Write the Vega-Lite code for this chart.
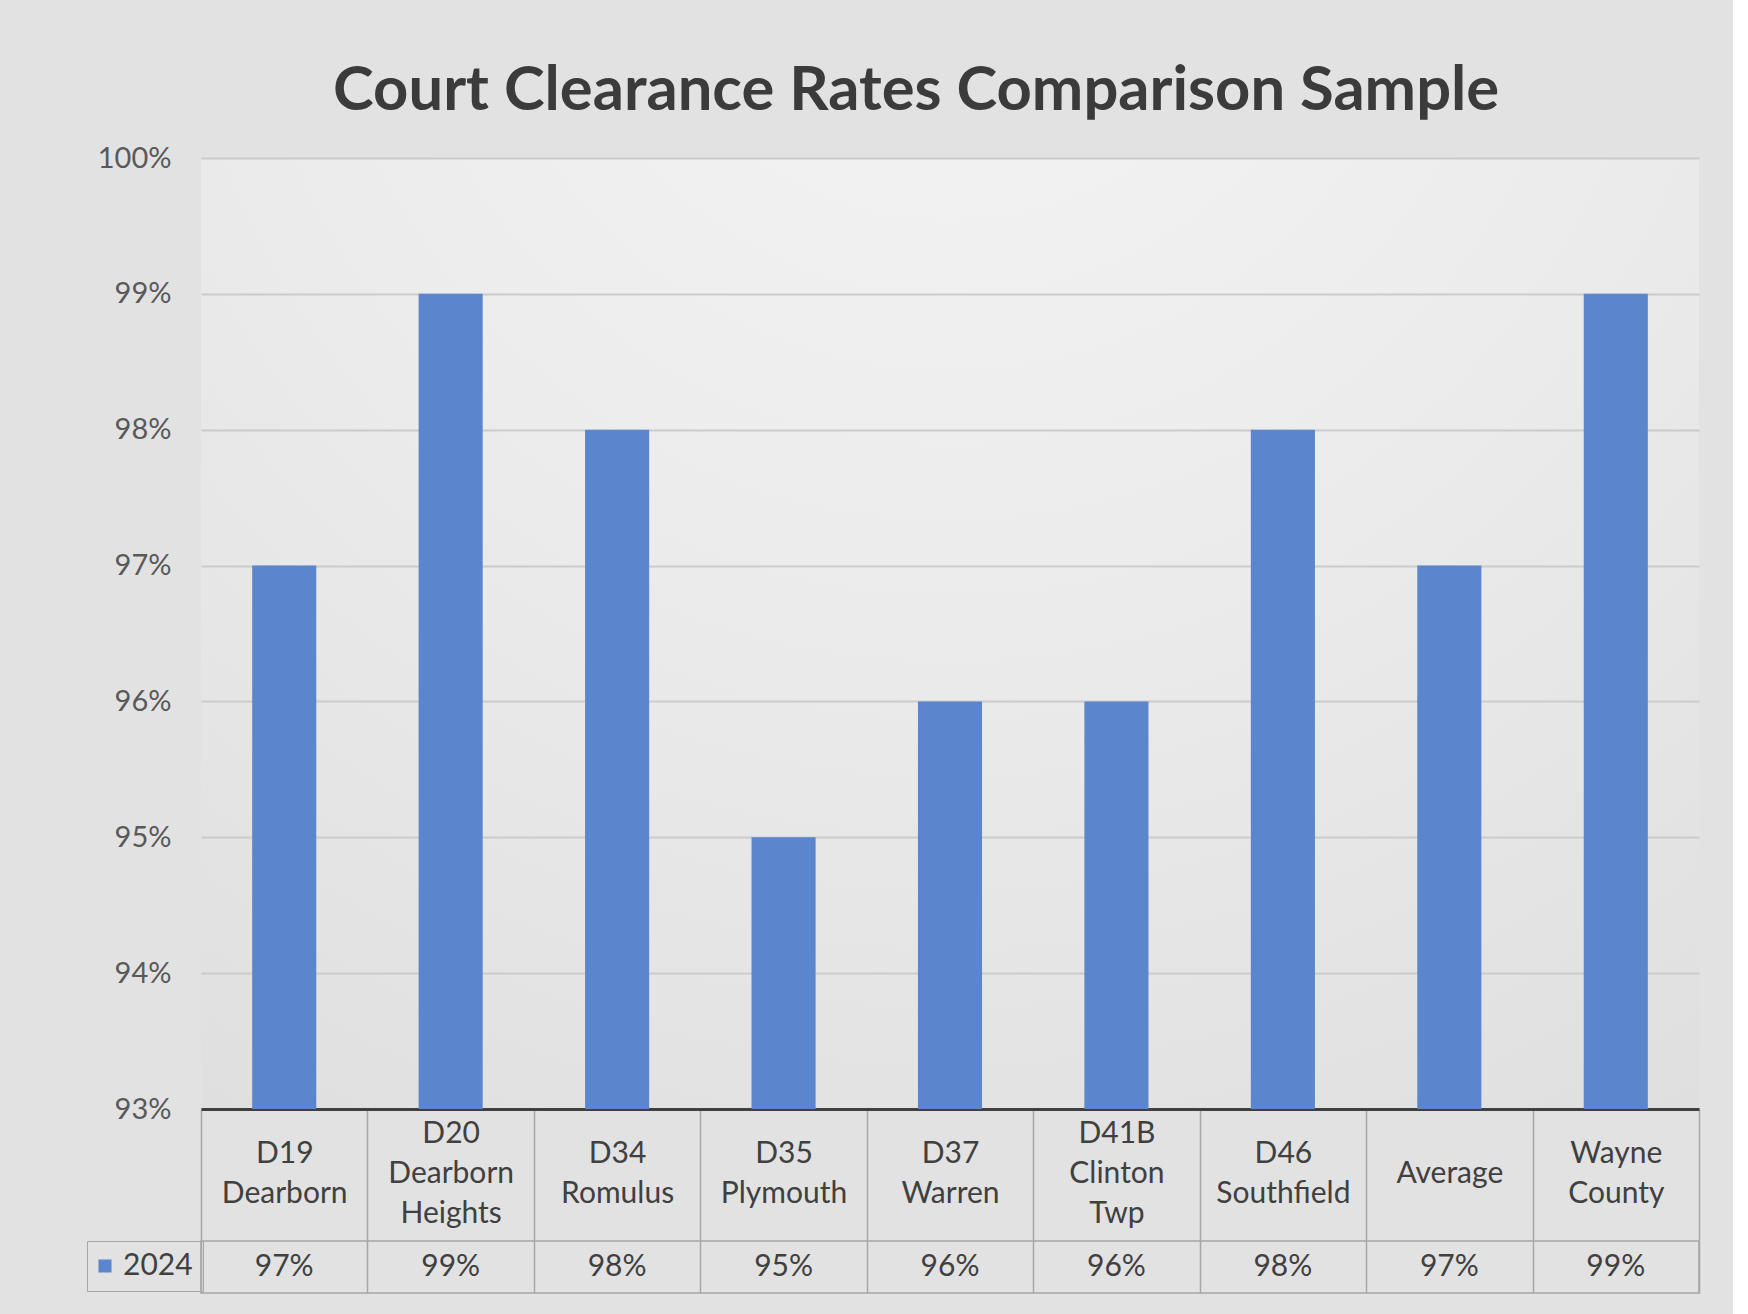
{
  "$schema": "https://vega.github.io/schema/vega-lite/v6.json",
  "background": "#e2e2e2",
  "padding": {"left": 86, "top": 60, "right": 33, "bottom": 25},
  "title": {"text": "Court Clearance Rates Comparison Sample", "font": "Lato", "fontSize": 61.5, "fontWeight": "bold", "color": "#3b3b3b", "anchor": "middle", "offset": 22, "dx": 23},
  "data": {"values": [
    {"court": "D19 Dearborn", "label": "D19\nDearborn", "series": "2024", "value": 0.97},
    {"court": "D20 Dearborn Heights", "label": "D20\nDearborn\nHeights", "series": "2024", "value": 0.99},
    {"court": "D34 Romulus", "label": "D34\nRomulus", "series": "2024", "value": 0.98},
    {"court": "D35 Plymouth", "label": "D35\nPlymouth", "series": "2024", "value": 0.95},
    {"court": "D37 Warren", "label": "D37\nWarren", "series": "2024", "value": 0.96},
    {"court": "D41B Clinton Twp", "label": "D41B\nClinton\nTwp", "series": "2024", "value": 0.96},
    {"court": "D46 Southfield", "label": "D46\nSouthfield", "series": "2024", "value": 0.98},
    {"court": "Average", "label": "Average", "series": "2024", "value": 0.97},
    {"court": "Wayne County", "label": "Wayne\nCounty", "series": "2024", "value": 0.99}
  ]},
  "bounds": "flush",
  "spacing": 132,
  "vconcat": [
    {
      "width": 1498,
      "height": 951,
      "view": {"fill": {"gradient": "radial", "x1": 0.5, "y1": 0, "r1": 0, "x2": 0.5, "y2": 0, "r2": 1, "stops": [{"offset": 0, "color": "#f5f5f5"}, {"offset": 0.5, "color": "#ebebeb"}, {"offset": 1, "color": "#dedede"}]}},
      "mark": {"type": "bar", "width": {"band": 0.385}, "clip": true},
      "encoding": {
        "x": {"field": "label", "type": "nominal", "sort": null,
          "scale": {"paddingInner": 0, "paddingOuter": 0},
          "axis": {"title": null, "labelAngle": 0,
            "labelExpr": "split(datum.label, '\\n')",
            "labelFont": "Lato", "labelFontSize": 30, "labelColor": "#404040", "labelLineHeight": 40,
            "labelBaseline": {"condition": [
              {"test": "length(split(datum.value, '\\n')) == 3", "value": "line-bottom"},
              {"test": "length(split(datum.value, '\\n')) == 2", "value": "middle"}
            ], "value": "line-top"},
            "labelPadding": -88,
            "domainColor": "#404040", "domainWidth": 3,
            "tickBand": "extent", "tickSize": 132, "tickColor": "#a6a6a6", "tickWidth": 1.5,
            "grid": false}},
        "y": {"field": "value", "type": "quantitative",
          "scale": {"domain": [0.93, 1.0], "zero": false, "nice": false},
          "axis": {"title": null, "values": [0.93, 0.94, 0.95, 0.96, 0.97, 0.98, 0.99, 1.0], "format": ".0%",
            "labelFont": "Lato", "labelFontSize": 29, "labelColor": "#595959", "labelPadding": 30,
            "domain": false, "ticks": false, "grid": true, "gridColor": "#cbcbcb", "gridWidth": 2}},
        "color": {"field": "series", "type": "nominal",
          "scale": {"range": ["#5b85cc"]},
          "legend": {"title": null, "orient": "none", "legendX": -114, "legendY": 1083,
            "symbolType": "square", "symbolSize": 170, "symbolStrokeWidth": 0, "symbolOffset": -7,
            "labelFont": "Lato", "labelFontSize": 30, "labelColor": "#404040", "labelOffset": 3,
            "padding": 10, "strokeColor": "#a6a6a6"}}
      }
    },
    {
      "width": 1498,
      "height": 52,
      "view": {"stroke": "#a6a6a6", "strokeWidth": 1.5},
      "mark": {"type": "text", "font": "Lato", "fontSize": 30, "color": "#404040", "baseline": "middle"},
      "encoding": {
        "x": {"field": "label", "type": "nominal", "sort": null,
          "scale": {"paddingInner": 0, "paddingOuter": 0},
          "axis": {"title": null, "labels": false, "ticks": false, "domain": false,
            "grid": true, "tickBand": "extent", "gridColor": "#a6a6a6", "gridWidth": 1.5}},
        "text": {"field": "value", "type": "quantitative", "format": ".0%"}
      }
    }
  ],
  "config": {"view": {"stroke": null}}
}
